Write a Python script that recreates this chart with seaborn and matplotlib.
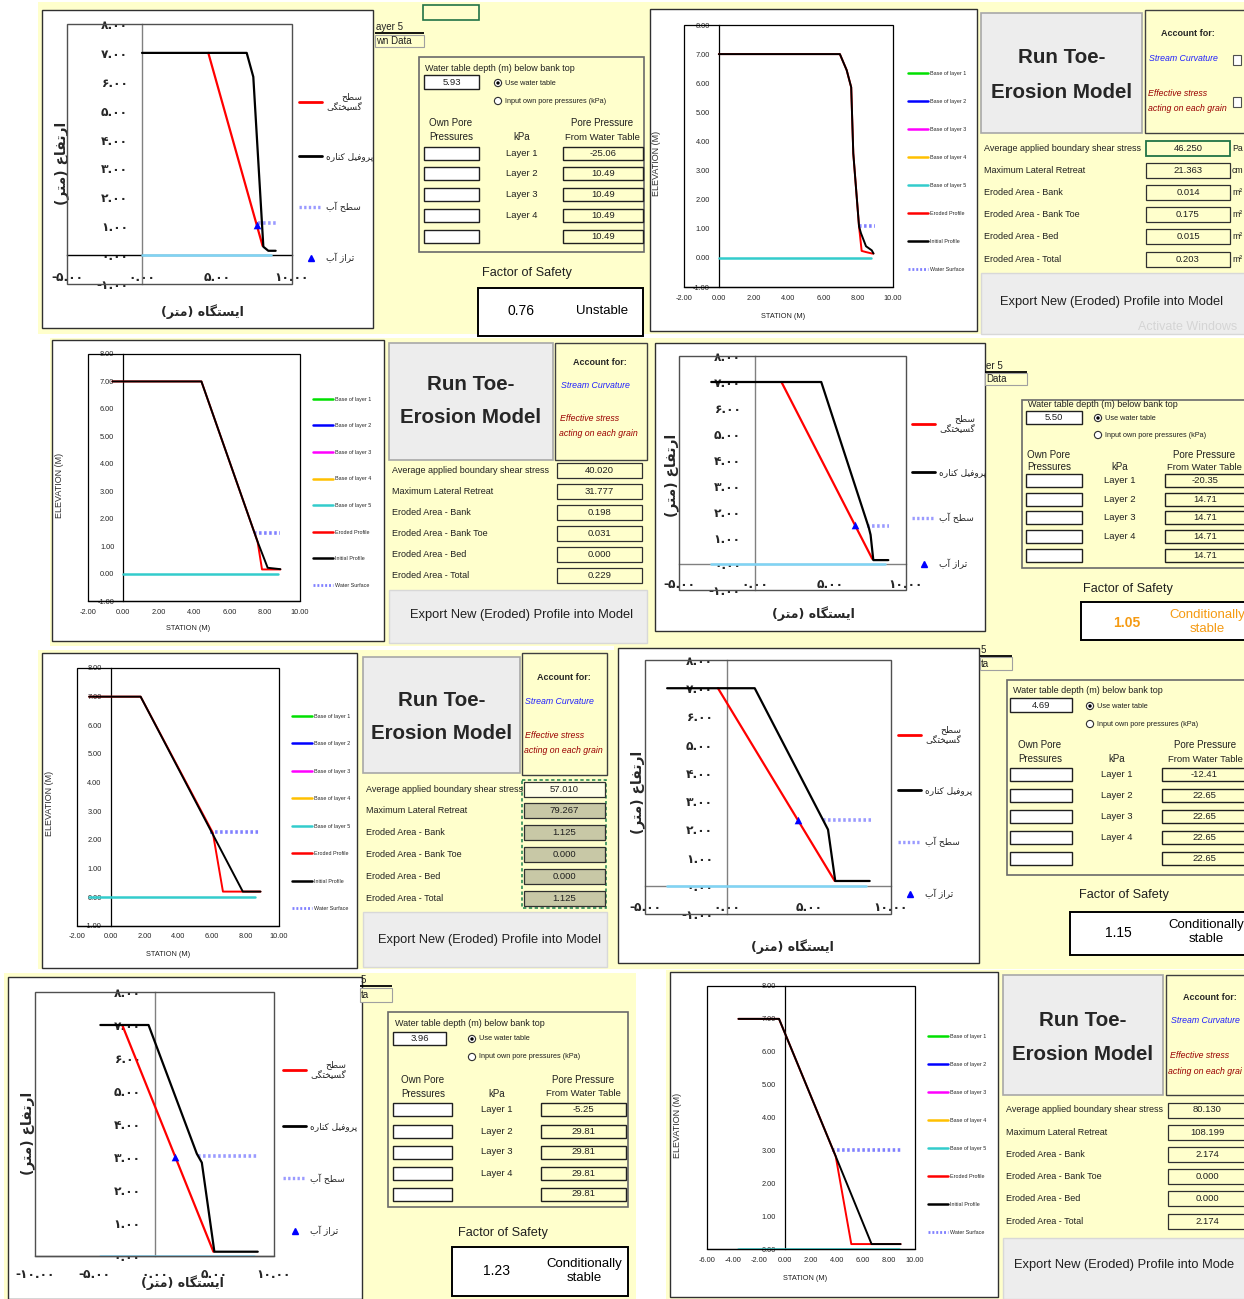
import seaborn as sns
import matplotlib.pyplot as plt
from matplotlib.lines import Line2D
from matplotlib.patches import Rectangle, Circle

sns.set_style('white')
plt.rcParams['font.family'] = ['Liberation Sans', 'DejaVu Sans']

W, H = 1244, 1299
NARROW = ['Liberation Sans Narrow', 'Liberation Sans', 'DejaVu Sans']
SANS = ['Liberation Sans', 'DejaVu Sans']
FA = ['DejaVu Sans']
YEL = '#FFFFCC'

# ---------------- profile values (station m, elevation m) ----------------
# A: bank stability, top left (FS 0.76)
a_bank_x = [0.0, 6.98, 7.42, 8.09, 8.42, 8.91]
a_bank_y = [7.0, 7.0, 6.17, 0.29, 0.15, 0.15]
a_fail_x = [4.42, 8.04]
a_fail_y = [7.0, 0.32]
a_water_x = [7.76, 8.93]
a_water_y = [1.11, 1.11]
a_level_x = [7.69]
a_level_y = [1.04]
a_base_x = [0.0, 8.6]
a_base_y = [0.0, 0.0]

# B: toe erosion, top right (46.25 Pa)
b_init_x = [0.0, 6.95, 7.34, 7.60, 7.72, 8.05, 8.16, 8.45, 8.78, 8.88]
b_init_y = [7.0, 7.0, 6.45, 5.86, 3.59, 1.08, 0.85, 0.40, 0.26, 0.15]
b_eros_x = [0.0, 6.95, 7.34, 7.60, 7.72, 8.05, 8.20, 8.45, 8.80, 8.88]
b_eros_y = [7.0, 7.0, 6.45, 5.86, 3.59, 1.08, 0.24, 0.20, 0.15, 0.15]
b_water_x = [8.07, 8.97]
b_water_y = [1.08, 1.08]
b_base_x = [0.0, 8.76]
b_base_y = [0.0, 0.0]

# C: toe erosion, second row left (40.02 Pa)
c_init_x = [-0.62, 4.42, 7.60, 8.17, 8.89]
c_init_y = [7.0, 7.0, 1.16, 0.21, 0.16]
c_eros_x = [-0.62, 4.42, 7.60, 7.85, 8.89]
c_eros_y = [7.0, 7.0, 1.16, 0.15, 0.15]
c_water_x = [7.40, 8.89]
c_water_y = [1.46, 1.46]
c_base_x = [0.0, 8.75]
c_base_y = [0.0, 0.0]

# D: bank stability, second row right (FS 1.05)
d_bank_x = [-2.87, 4.40, 7.55, 7.66, 7.84, 8.83]
d_bank_y = [7.0, 7.0, 1.38, 1.12, 0.15, 0.15]
d_fail_x = [1.77, 7.77]
d_fail_y = [7.0, 0.20]
d_water_x = [7.40, 8.90]
d_water_y = [1.45, 1.45]
d_level_x = [6.62]
d_level_y = [1.50]
d_base_x = [-2.87, 8.6]
d_base_y = [0.0, 0.0]

# E: toe erosion, third row left (57.01 Pa)
e_init_x = [-1.28, 1.78, 7.85, 8.90]
e_init_y = [7.0, 7.0, 0.20, 0.20]
e_eros_x = [-1.28, 1.78, 6.07, 6.67, 8.90]
e_eros_y = [7.0, 7.0, 2.25, 0.20, 0.20]
e_water_x = [5.92, 8.88]
e_water_y = [2.28, 2.28]
e_base_x = [-1.28, 8.6]
e_base_y = [0.0, 0.0]

# F: bank stability, third row right (FS 1.15)
f_bank_x = [-3.65, 1.69, 6.16, 6.60, 8.70]
f_bank_y = [7.0, 7.0, 1.99, 0.17, 0.17]
f_fail_x = [-0.55, 6.57]
f_fail_y = [7.0, 0.17]
f_water_x = [5.85, 8.80]
f_water_y = [2.32, 2.32]
f_level_x = [4.33]
f_level_y = [2.32]
f_base_x = [-3.65, 8.5]
f_base_y = [0.0, 0.0]

# G: bank stability, bottom left (FS 1.23)
g_bank_x = [-4.53, -0.50, 3.54, 3.96, 5.01, 8.64]
g_bank_y = [7.0, 7.0, 3.10, 2.83, 0.13, 0.13]
g_fail_x = [-2.70, 4.93]
g_fail_y = [7.0, 0.13]
g_water_x = [3.68, 8.69]
g_water_y = [3.04, 3.04]
g_level_x = [1.73]
g_level_y = [3.0]
g_base_x = [-4.53, 8.3]
g_base_y = [0.0, 0.0]

# H: toe erosion, bottom right (80.13 Pa)
h_init_x = [-3.58, -0.46, 3.90, 6.66, 8.89]
h_init_y = [7.0, 7.0, 2.82, 0.15, 0.15]
h_eros_x = [-3.58, -0.46, 3.90, 5.10, 8.89]
h_eros_y = [7.0, 7.0, 2.82, 0.15, 0.15]
h_water_x = [3.64, 8.96]
h_water_y = [3.0, 3.0]
h_base_x = [-3.58, 8.8]
h_base_y = [0.0, 0.0]

# ---------------- spreadsheet values ----------------
toe_labels = ['Average applied boundary shear stress', 'Maximum Lateral Retreat', 'Eroded Area - Bank',
              'Eroded Area - Bank Toe', 'Eroded Area - Bed', 'Eroded Area - Total']
toe_units = ['Pa', 'cm', 'm²', 'm²', 'm²', 'm²']
t1_vals = [46.250, 21.363, 0.014, 0.175, 0.015, 0.203]
t2_vals = [40.020, 31.777, 0.198, 0.031, 0.000, 0.229]
t3_vals = [57.010, 79.267, 1.125, 0.000, 0.000, 1.125]
t4_vals = [80.130, 108.199, 2.174, 0.000, 0.000, 2.174]

layer_names = ['Layer 1', 'Layer 2', 'Layer 3', 'Layer 4', '']
b1_depth, b1_pore, b1_fs = 5.93, [-25.06, 10.49, 10.49, 10.49, 10.49], 0.76
b2_depth, b2_pore, b2_fs = 5.50, [-20.35, 14.71, 14.71, 14.71, 14.71], 1.05
b3_depth, b3_pore, b3_fs = 4.69, [-12.41, 22.65, 22.65, 22.65, 22.65], 1.15
b4_depth, b4_pore, b4_fs = 3.96, [-5.25, 29.81, 29.81, 29.81, 29.81], 1.23

# ---------------- Persian text (manual shaping, matplotlib has no RTL layout) ----------------
FORMS = {
    'ا': ('\uFE8D', '\uFE8E', None, None), 'آ': ('\uFE81', '\uFE82', None, None),
    'ب': ('\uFE8F', '\uFE90', '\uFE91', '\uFE92'), 'پ': ('\uFB56', '\uFB57', '\uFB58', '\uFB59'),
    'ت': ('\uFE95', '\uFE96', '\uFE97', '\uFE98'), 'ح': ('\uFEA1', '\uFEA2', '\uFEA3', '\uFEA4'),
    'خ': ('\uFEA5', '\uFEA6', '\uFEA7', '\uFEA8'), 'د': ('\uFEA9', '\uFEAA', None, None),
    'ر': ('\uFEAD', '\uFEAE', None, None), 'ز': ('\uFEAF', '\uFEB0', None, None),
    'س': ('\uFEB1', '\uFEB2', '\uFEB3', '\uFEB4'), 'ط': ('\uFEC1', '\uFEC2', '\uFEC3', '\uFEC4'),
    'ع': ('\uFEC9', '\uFECA', '\uFECB', '\uFECC'), 'ف': ('\uFED1', '\uFED2', '\uFED3', '\uFED4'),
    'ک': ('\uFB8E', '\uFB8F', '\uFB90', '\uFB91'), 'گ': ('\uFB92', '\uFB93', '\uFB94', '\uFB95'),
    'ل': ('\uFEDD', '\uFEDE', '\uFEDF', '\uFEE0'), 'م': ('\uFEE1', '\uFEE2', '\uFEE3', '\uFEE4'),
    'ن': ('\uFEE5', '\uFEE6', '\uFEE7', '\uFEE8'), 'ه': ('\uFEE9', '\uFEEA', '\uFEEB', '\uFEEC'),
    'و': ('\uFEED', '\uFEEE', None, None), 'ی': ('\uFBFC', '\uFBFD', '\uFBFE', '\uFBFF'),
}
MIRROR = str.maketrans('()', ')(')
DIGITS = str.maketrans('0123456789', '۰۱۲۳۴۵۶۷۸۹')


def fa(s):
    lines = []
    for line in s.split('\n'):
        out = []
        for i, ch in enumerate(line):
            f = FORMS.get(ch)
            if f is None:
                out.append(ch)
                continue
            prv = line[i - 1] if i else ''
            nxt = line[i + 1] if i + 1 < len(line) else ''
            jp = prv in FORMS and FORMS[prv][2] is not None
            jn = f[2] is not None and nxt in FORMS
            out.append(f[3] if jp and jn else f[1] if jp else f[2] if jn else f[0])
        lines.append(''.join(reversed(out)).translate(MIRROR))
    return '\n'.join(lines)


def fa_num(v):
    return f'{v:.2f}'.translate(DIGITS)


# ---------------- figure + pixel overlay for the spreadsheet parts ----------------
fig = plt.figure(figsize=(W / 100, H / 100), dpi=100)
ov = fig.add_axes([0, 0, 1, 1], zorder=0)
ov.set_xlim(0, W)
ov.set_ylim(H, 0)
ov.axis('off')


def box(x0, y0, x1, y1, fc='none', ec='black', lw=0.8, **kw):
    ov.add_patch(Rectangle((x0, y0), x1 - x0, y1 - y0, fc=fc, ec=ec, lw=lw, **kw))


def txt(x, y, s, size=8, fam=NARROW, ha='left', va='center', **kw):
    ov.text(x, y, s, fontsize=size, family=fam, ha=ha, va=va, **kw)


# yellow sheet backgrounds
for b in [(38, 2, 650, 334), (650, 2, 1244, 334), (50, 338, 650, 646), (650, 338, 1244, 648),
          (38, 650, 614, 969), (614, 645, 1244, 969), (4, 973, 636, 1299), (666, 970, 1244, 1299)]:
    box(*b, fc=YEL, ec='none')

# white chart areas
for b in [(42, 10, 373, 328), (650, 9, 977, 331), (52, 340, 384, 641), (655, 343, 985, 631),
          (42, 653, 357, 968), (618, 648, 979, 963), (8, 977, 362, 1299), (670, 972, 998, 1297)]:
    box(*b, fc='white', ec='#303030', lw=1.0)


def add_ax(b):
    x0, y0, x1, y1 = b
    ax = fig.add_axes([x0 / W, 1 - y1 / H, (x1 - x0) / W, (y1 - y0) / H], zorder=2)
    ax.set_facecolor('none')
    return ax


def place_labels(ax, b, ylab_xy, xlab_xy):
    x0, y0, x1, y1 = b
    ax.yaxis.set_label_coords((ylab_xy[0] - x0) / (x1 - x0), (y1 - ylab_xy[1]) / (y1 - y0))
    ax.xaxis.set_label_coords((xlab_xy[0] - x0) / (x1 - x0), (y1 - xlab_xy[1]) / (y1 - y0))
    ax.yaxis.label.set(va='center', ha='center')
    ax.xaxis.label.set(va='center', ha='center')


def lp(**kw):
    return dict(sort=False, estimator=None, legend=False, **kw)


def fa_chart(b, xlim, ylim, xticks, bank, fail, water, level, base, leg_top, leg_L, ylab, xlab,
             xpad, zero_col):
    ax = add_ax(b)
    sns.lineplot(x=base[0], y=base[1], ax=ax, color='#7FD4F5', lw=1.8, zorder=3, **lp())
    sns.lineplot(x=water[0], y=water[1], ax=ax, color='#9A9AFF', lw=2.6, linestyle=(0, (0.7, 0.7)),
                 zorder=3, **lp())
    sns.lineplot(x=fail[0], y=fail[1], ax=ax, color='red', lw=1.6, zorder=3, **lp())
    sns.lineplot(x=bank[0], y=bank[1], ax=ax, color='black', lw=1.6, zorder=3, **lp())
    sns.scatterplot(x=level[0], y=level[1], ax=ax, marker='^', color='blue', s=30, linewidth=0,
                    zorder=5, legend=False)
    ax.set_xlim(xlim)
    ax.set_ylim(ylim)
    ax.spines['left'].set_position(('data', 0))
    ax.spines['bottom'].set_position(('data', 0))
    ax.spines['left'].set_color('#808080')
    ax.spines['bottom'].set_color(zero_col)
    for s in ['left', 'bottom']:
        ax.spines[s].set_linewidth(1.0)
    for s in ['top', 'right']:
        ax.spines[s].set_visible(False)
    ax.add_patch(Rectangle((0, 0), 1, 1, transform=ax.transAxes, fill=False, ec='#505050', lw=1.0,
                           clip_on=False, zorder=4))
    yt = list(range(int(ylim[0]), 9))
    ax.set_yticks(yt, labels=[fa_num(v) for v in yt], fontsize=8.8, fontweight='bold', family=FA)
    ax.set_xticks(xticks, labels=[fa_num(v) for v in xticks], fontsize=8.8, fontweight='bold', family=FA)
    ax.tick_params(axis='y', length=0, pad=10)
    ax.tick_params(axis='x', length=3, width=0.8, direction='out', pad=xpad, color='#404040')
    ax.set_ylabel(fa('ارتفاع (متر)'), fontsize=10, fontweight='bold', family=FA)
    ax.set_xlabel(fa('ایستگاه (متر)'), fontsize=9, fontweight='bold', family=FA)
    place_labels(ax, b, ylab, xlab)
    handles = [Line2D([], [], color='red', lw=2), Line2D([], [], color='black', lw=2),
               Line2D([], [], color='#9A9AFF', lw=2.4, ls=(0, (0.7, 0.7))),
               Line2D([], [], color='blue', marker='^', ls='none', ms=5)]
    labels = [fa('سطح\nگسیختگی'), fa('پروفیل کناره'), fa('سطح آب'), fa('تراز آب')]
    leg = ax.legend(handles, labels, loc='upper left', bbox_to_anchor=(leg_top[0] / W, 1 - leg_top[1] / H),
                    bbox_transform=fig.transFigure, frameon=False, prop={'family': FA, 'size': 6.5},
                    labelspacing=leg_L, handlelength=2.6, handletextpad=0.4, borderpad=0, borderaxespad=0)
    leg.get_texts()[0].set_multialignment('right')
    return ax


EN_HANDLES = [Line2D([], [], color=c, lw=1.8) for c in
              ['#00E000', '#0000FF', '#FF00FF', '#FFC000', '#33CCCC', '#FF0000', '#000000']] + \
             [Line2D([], [], color='#8080FF', lw=2.0, ls=(0, (0.7, 0.7)))]
EN_LABELS = ['Base of layer 1', 'Base of layer 2', 'Base of layer 3', 'Base of layer 4', 'Base of layer 5',
             'Eroded Profile', 'Initial Profile', 'Water Surface']


def en_chart(b, xlim, ylim, xticks, init, eros, water, base, leg_xy, leg_gap, ylab, xlab):
    ax = add_ax(b)
    sns.lineplot(x=base[0], y=base[1], ax=ax, color='#33CCCC', lw=1.8, zorder=3, **lp())
    sns.lineplot(x=water[0], y=water[1], ax=ax, color='#8080FF', lw=2.6, linestyle=(0, (0.7, 0.7)),
                 zorder=3, **lp())
    sns.lineplot(x=eros[0], y=eros[1], ax=ax, color='red', lw=1.4, zorder=3, **lp())
    sns.lineplot(x=init[0], y=init[1], ax=ax, color='black', lw=1.4, zorder=3, **lp())
    ax.set_xlim(xlim)
    ax.set_ylim(ylim)
    ax.spines['left'].set_position(('data', 0))
    for s in ['left', 'bottom']:
        ax.spines[s].set_color('black')
        ax.spines[s].set_linewidth(0.9)
    for s in ['top', 'right']:
        ax.spines[s].set_visible(False)
    ax.add_patch(Rectangle((0, 0), 1, 1, transform=ax.transAxes, fill=False, ec='black', lw=0.9,
                           clip_on=False, zorder=4))
    yt = list(range(int(ylim[0]), 9))
    ax.set_yticks(yt, labels=[f'{v:.2f}' for v in yt], fontsize=5.3, family=NARROW)
    ax.set_xticks(xticks, labels=[f'{v:.2f}' for v in xticks], fontsize=5.3, family=NARROW)
    ax.tick_params(axis='both', length=2.2, width=0.7, direction='out', color='black')
    ax.tick_params(axis='y', pad=4.3)
    ax.tick_params(axis='x', pad=3.2)
    ax.set_ylabel('ELEVATION (M)', fontsize=6.5, family=SANS, color='#303030')
    ax.set_xlabel('STATION (M)', fontsize=5.3, family=NARROW, color='#202020')
    place_labels(ax, b, ylab, xlab)
    fs_px = 3.9 * 100 / 72
    L = (leg_gap - 1.17 * fs_px) / fs_px
    ax.legend(EN_HANDLES, EN_LABELS, loc='upper left',
              bbox_to_anchor=(leg_xy[0] / W, 1 - (leg_xy[1] - 3.2) / H),
              bbox_transform=fig.transFigure, frameon=False, prop={'family': NARROW, 'size': 3.9},
              labelspacing=L, handlelength=3.6, handletextpad=0.4, borderpad=0, borderaxespad=0)
    return ax


# ---------------- the eight charts ----------------
fa_chart((67, 24, 292, 284), (-5, 10), (-1, 8), [-5, 0, 5, 10], (a_bank_x, a_bank_y), (a_fail_x, a_fail_y),
         (a_water_x, a_water_y), (a_level_x, a_level_y), (a_base_x, a_base_y), (299, 92), 4.5,
         (62, 163), (202, 312), 8.5, 'black')
en_chart((684, 25, 893, 287), (-2, 10), (-1, 8), [-2, 0, 2, 4, 6, 8, 10], (b_init_x, b_init_y),
         (b_eros_x, b_eros_y), (b_water_x, b_water_y), (b_base_x, b_base_y), (908, 74), 29.4,
         (657, 163), (783, 316))
en_chart((88, 354, 300, 601), (-2, 10), (-1, 8), [-2, 0, 2, 4, 6, 8, 10], (c_init_x, c_init_y),
         (c_eros_x, c_eros_y), (c_water_x, c_water_y), (c_base_x, c_base_y), (313, 400), 27.9,
         (60, 485), (188, 629))
fa_chart((679, 356, 906, 590), (-5, 10), (-1, 8), [-5, 0, 5, 10], (d_bank_x, d_bank_y), (d_fail_x, d_fail_y),
         (d_water_x, d_water_y), (d_level_x, d_level_y), (d_base_x, d_base_y), (912, 414), 3.9,
         (672, 475), (813, 614), 7.2, '#808080')
en_chart((77, 668, 279, 926), (-2, 10), (-1, 8), [-2, 0, 2, 4, 6, 8, 10], (e_init_x, e_init_y),
         (e_eros_x, e_eros_y), (e_water_x, e_water_y), (e_base_x, e_base_y), (292, 717), 28.8,
         (50, 803), (168, 954))
fa_chart((645, 660, 891, 914), (-5, 10), (-1, 8), [-5, 0, 5, 10], (f_bank_x, f_bank_y), (f_fail_x, f_fail_y),
         (f_water_x, f_water_y), (f_level_x, f_level_y), (f_base_x, f_base_y), (898, 725), 4.6,
         (638, 792), (792, 947), 8.0, '#808080')
fa_chart((35, 992, 274, 1256), (-10, 10), (0, 8), [-10, -5, 0, 5, 10], (g_bank_x, g_bank_y),
         (g_fail_x, g_fail_y), (g_water_x, g_water_y), (g_level_x, g_level_y), (g_base_x, g_base_y),
         (283, 1060), 4.7, (28, 1133), (182, 1283), 6.0, '#505050')
en_chart((707, 986, 915, 1249), (-6, 10), (0, 8), [-6, -4, -2, 0, 2, 4, 6, 8, 10], (h_init_x, h_init_y),
         (h_eros_x, h_eros_y), (h_water_x, h_water_y), (h_base_x, h_base_y), (928, 1037), 29.4,
         (678, 1125), (805, 1278))


# ---------------- toe-erosion panels ----------------
def toe_panel(p, vals):
    bx0, by0, bx1, by1 = p['button']
    box(bx0, by0, bx1, by1, fc='#EDEDED', ec='#A8A8A8', lw=1.2)
    cx = (bx0 + bx1) / 2
    txt(cx, p['run'][0], 'Run Toe-', 14.8, NARROW, ha='center', weight='bold')
    txt(cx, p['run'][1], 'Erosion Model', 14.8, NARROW, ha='center', weight='bold')
    box(*p['acc'], fc=YEL, ec='#404040', lw=1.0)
    (x1, y1), (x2, y2), (x3, y3), (x4, y4) = p['acc_t']
    txt(x1, y1, 'Account for:', 6.5, NARROW, ha='center', weight='bold')
    txt(x2, y2, 'Stream Curvature', 6.3, NARROW, ha='center', style='italic', color='#2020FF')
    txt(x3, y3, 'Effective stress', 6.3, NARROW, ha='center', style='italic', color='#9A0000')
    txt(x4, y4, p.get('grain', 'acting on each grain'), 6.3, NARROW, ha='center', style='italic',
        color='#9A0000')
    if p.get('checks'):
        for cy in p['checks']:
            box(1233, cy - 5, 1241, cy + 5, fc='white', ec='#505050', lw=0.8)
    vx0, vx1 = p['val']
    if p.get('khaki'):
        box(vx0 - 2, p['y0'] - 9, vx1 + 1, p['y0'] + 5 * p['dy'] + 10, fc='none', ec='#2E8B57', lw=1.2,
            ls=(0, (2, 1.5)))
    for i, (lab, v) in enumerate(zip(toe_labels, vals)):
        y = p['y0'] + i * p['dy']
        txt(p['lab_x'], y, lab, 6.5, NARROW, color='#202020')
        fc = YEL
        if p.get('khaki'):
            fc = '#FFFFE8' if i == 0 else '#C8C8A6'
        ec = '#217346' if (i == 0 and p.get('sel')) else '#303030'
        box(vx0, y - 7.5, vx1, y + 7.5, fc=fc, ec=ec, lw=1.3 if ec != '#303030' else 0.9)
        txt((vx0 + vx1) / 2, y, f'{v:.3f}', 6.8, NARROW, ha='center', color='#202020')
        if p.get('units'):
            txt(p['units'], y, toe_units[i], 6.3, NARROW, color='#202020')
    box(*p['export'], fc='#EDEDED', ec='#D8D8D8', lw=1.0)
    txt(p['exp_t'][0], p['exp_t'][1], p.get('exp', 'Export New (Eroded) Profile into Model'), 9.3, NARROW,
        ha='center', color='#202020')


toe_panel(dict(button=(981, 13, 1142, 133), run=(57, 92), acc=(1145, 10, 1246, 133),
               acc_t=[(1188, 33), (1183, 58), (1178, 93), (1187, 108)], checks=[60, 102],
               y0=148, dy=22.2, lab_x=984, val=(1146, 1230), units=1232, sel=True,
               export=(981, 273, 1246, 334), exp_t=(1112, 302)), t1_vals)
toe_panel(dict(button=(389, 343, 553, 460), run=(384, 417), acc=(555, 343, 647, 460),
               acc_t=[(600, 362), (595, 385), (590, 418), (598, 433)],
               y0=470, dy=21.0, lab_x=392, val=(557, 642),
               export=(389, 590, 647, 643), exp_t=(521, 615)), t2_vals)
toe_panel(dict(button=(363, 657, 520, 773), run=(700, 733), acc=(522, 653, 607, 775),
               acc_t=[(564, 677), (559, 701), (555, 735), (563, 750)], khaki=True,
               y0=789, dy=21.8, lab_x=366, val=(524, 605),
               export=(363, 912, 607, 967), exp_t=(490, 940)), t3_vals)
toe_panel(dict(button=(1003, 975, 1163, 1095), run=(1020, 1054), acc=(1166, 975, 1246, 1095),
               acc_t=[(1210, 997), (1205, 1020), (1200, 1055), (1205, 1071)], grain='acting on each grai',
               y0=1110, dy=22.2, lab_x=1006, val=(1168, 1246),
               export=(1003, 1238, 1246, 1299), exp_t=(1124, 1265),
               exp='Export New (Eroded) Profile into Mode'), t4_vals)
txt(1138, 327, 'Activate Windows', 9, SANS, color='#D5D5D5')


# ---------------- bank-stability panels ----------------
def bank_panel(p, depth, pore, fs, status, col, fs_bold=False):
    hx, hy, htxt, hx1 = p['head']
    txt(hx + 1, hy, htxt, 7, SANS, color='#202020')
    ov.hlines(hy + 6, hx, hx1, color='black', lw=1.3)
    dx0, dy0, dx1, dy1, dtxt = p['data']
    box(dx0, dy0, dx1, dy1, fc=YEL, ec='#A0A0A0', lw=0.8)
    txt(dx0 + 1, (dy0 + dy1) / 2, dtxt, 7, SANS, color='#202020')
    box(*p['panel'], fc=YEL, ec='#6A6A6A', lw=1.2)
    txt(p['wt'][0], p['wt'][1], 'Water table depth (m) below bank top', 6.5, NARROW, color='#202020')
    ix0, iy0, ix1, iy1 = p['inp']
    box(ix0, iy0, ix1, iy1, fc='white', ec='#202020', lw=1.0)
    txt((ix0 + ix1) / 2, (iy0 + iy1) / 2, f'{depth:.2f}', 6.8, NARROW, ha='center', color='#202020')
    rx, ry1, ry2 = p['radio']
    ov.add_patch(Circle((rx, ry1), 3.6, fc='white', ec='#303030', lw=0.8))
    ov.add_patch(Circle((rx, ry1), 1.7, fc='black', ec='none'))
    ov.add_patch(Circle((rx, ry2), 3.6, fc='white', ec='#303030', lw=0.8))
    txt(rx + 7, ry1, 'Use water table', 5.3, NARROW, color='#202020')
    txt(rx + 7, ry2, 'Input own pore pressures (kPa)', 5.2, NARROW, color='#202020')
    ox, oy1, oy2 = p['own']
    txt(ox, oy1, 'Own Pore', 7, NARROW, ha='center', color='#202020')
    txt(ox, oy2, 'Pressures', 7, NARROW, ha='center', color='#202020')
    txt(p['ppx'], oy1, 'Pore Pressure', 7, NARROW, ha='center', color='#202020')
    txt(p['ppx'], oy2, 'From Water Table', 6.8, NARROW, ha='center', color='#202020')
    txt(p['kx'], oy2, 'kPa', 7, NARROW, ha='center', color='#202020')
    lx0, lx1 = p['left']
    rx0, rx1 = p['right']
    for y, name, v in zip(p['rows'], layer_names, pore):
        box(lx0, y - 6.5, lx1, y + 6.5, fc='white', ec='#202020', lw=1.0)
        box(rx0, y - 6.5, rx1, y + 6.5, fc=YEL, ec='#202020', lw=1.0)
        txt(p['kx'], y, name, 6.8, NARROW, ha='center', color='#202020')
        txt((rx0 + rx1) / 2, y, f'{v:.2f}', 6.8, NARROW, ha='center', color='#202020')
    txt(p['fsl'][0], p['fsl'][1], 'Factor of Safety', 9.2, SANS, ha='center', color='#202020')
    box(*p['fsbox'], fc='white', ec='black', lw=1.4)
    txt(p['fsv'][0], p['fsv'][1], f'{fs:.2f}', 10, SANS, ha='center', color=col,
        weight='bold' if fs_bold else 'normal')
    txt(p['st'][0], p['st'][1], status, 9.5, SANS, ha='center', color=col, linespacing=1.25)


bank_panel(dict(head=(375, 27, 'ayer 5', 424), data=(375, 35, 424, 47, 'wn Data'), panel=(419, 57, 644, 252),
                wt=(425, 68), inp=(424, 75, 479, 89), radio=(498, 83, 101), own=(451, 123, 137), kx=522,
                ppx=602, rows=[153, 173, 194, 215, 236], left=(424, 479), right=(563, 643),
                fsl=(527, 273), fsbox=(478, 288, 643, 336), fsv=(521, 311), st=(602, 311)),
           b1_depth, b1_pore, b1_fs, 'Unstable', 'black')
bank_panel(dict(head=(985, 366, 'er 5', 1027), data=(985, 373, 1027, 385, 'Data'), panel=(1022, 400, 1246, 568),
                wt=(1028, 404), inp=(1026, 411, 1082, 424), radio=(1098, 418, 435), own=(1049, 455, 467),
                kx=1120, ppx=1204, rows=[480, 499, 517, 536, 555], left=(1026, 1082), right=(1165, 1246),
                fsl=(1128, 589), fsbox=(1081, 602, 1246, 640), fsv=(1127, 623), st=(1207, 622)),
           b2_depth, b2_pore, b2_fs, 'Conditionally\nstable', '#F59A12', fs_bold=True)
bank_panel(dict(head=(980, 650, '5', 1012), data=(980, 657, 1012, 670, 'ta'), panel=(1007, 680, 1246, 875),
                wt=(1013, 690), inp=(1010, 698, 1072, 712), radio=(1090, 706, 724), own=(1040, 745, 759),
                kx=1117, ppx=1205, rows=[774, 795, 816, 837, 858], left=(1010, 1072), right=(1162, 1246),
                fsl=(1124, 895), fsbox=(1070, 912, 1246, 955), fsv=(1118, 933), st=(1206, 932)),
           b3_depth, b3_pore, b3_fs, 'Conditionally\nstable', 'black')
bank_panel(dict(head=(360, 980, '5', 392), data=(360, 988, 392, 1002, 'ta'), panel=(388, 1012, 628, 1207),
                wt=(395, 1024), inp=(393, 1032, 446, 1045), radio=(472, 1039, 1057), own=(423, 1080, 1094),
                kx=497, ppx=583, rows=[1109, 1131, 1152, 1173, 1194], left=(393, 452), right=(541, 626),
                fsl=(503, 1233), fsbox=(452, 1247, 628, 1296), fsv=(497, 1271), st=(584, 1271)),
           b4_depth, b4_pore, b4_fs, 'Conditionally\nstable', 'black')
# selected cell in the top-left sheet
box(423, 5, 479, 20, fc='none', ec='#217346', lw=1.2)

fig.savefig('out.png', dpi=100)
